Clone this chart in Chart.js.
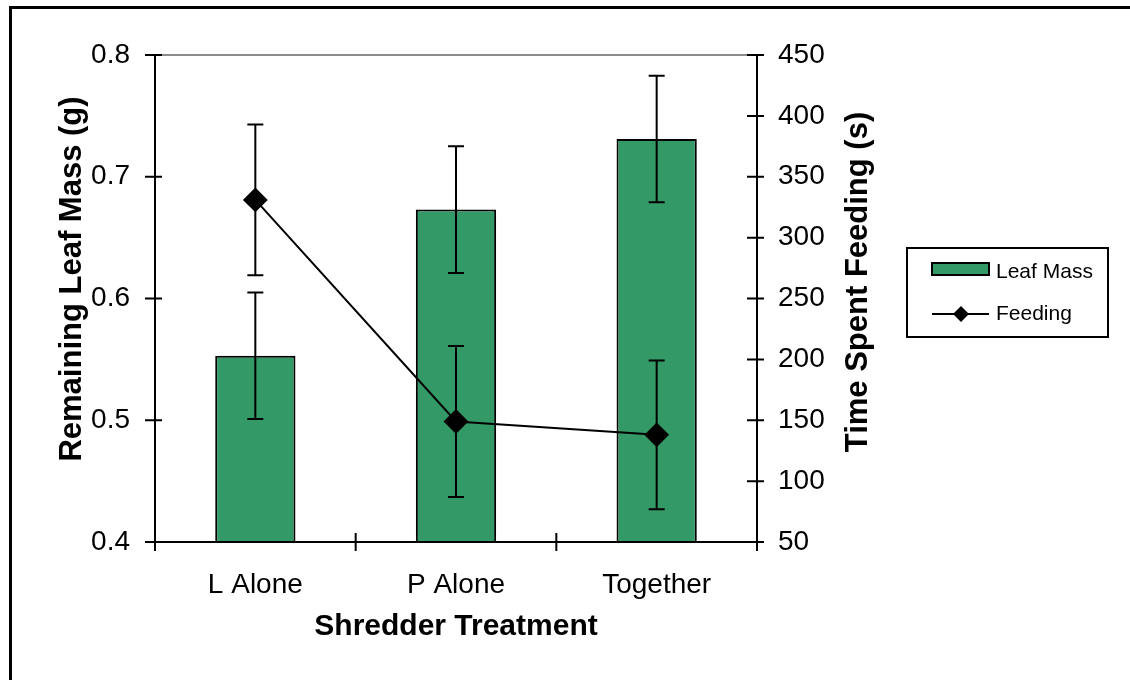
<!DOCTYPE html>
<html>
<head>
<meta charset="utf-8">
<script src="https://cdn.jsdelivr.net/npm/chart.js@4"></script>
<style>
  body { margin: 0; background: #fff; }
  canvas { display: block; }
</style>
</head>
<body>
<canvas id="leafChart" width="1130" height="680"></canvas>
<script>
const categories = ["L Alone", "P Alone", "Together"];
const leafMass = [0.553, 0.673, 0.731];
const leafMassErr = [0.052, 0.052, 0.052];
const feeding = [331, 149, 138];
const feedingErr = [62, 62, 61];
const leftTicks = [0.4, 0.5, 0.6, 0.7, 0.8];
const rightTicks = [50, 100, 150, 200, 250, 300, 350, 400, 450];

const FONT = "'Liberation Sans', Arial, sans-serif";
const GREEN = "#339966";

Chart.defaults.font.family = FONT;
Chart.defaults.color = "#000";

// error bars, axis lines, tick marks, titles and the boxed legend
const extras = {
  id: "extras",
  beforeDatasetsDraw(chart) {
    const { ctx, chartArea } = chart;
    ctx.save();
    ctx.strokeStyle = "#8c8c8c";
    ctx.lineWidth = 2;
    ctx.beginPath();
    ctx.moveTo(chartArea.left, chartArea.top);
    ctx.lineTo(chartArea.right, chartArea.top);
    ctx.stroke();
    ctx.restore();
  },
  beforeDatasetDraw(chart, args) {
    if (args.index === 1) drawErrors(chart, 1, feeding, feedingErr, "y1");
  },
  afterDatasetDraw(chart, args) {
    if (args.index === 0) drawErrors(chart, 0, leafMass, leafMassErr, "y");
  },
  afterDraw(chart) {
    const { ctx, chartArea, scales } = chart;
    const { left, right, top, bottom } = chartArea;
    ctx.save();
    ctx.strokeStyle = "#000";
    ctx.lineWidth = 2;

    // axis lines
    ctx.beginPath();
    ctx.moveTo(left, top); ctx.lineTo(left, bottom);
    ctx.moveTo(right, top); ctx.lineTo(right, bottom);
    ctx.moveTo(left - 1, bottom); ctx.lineTo(right + 1, bottom);
    ctx.stroke();

    // tick marks crossing the axes
    ctx.beginPath();
    leftTicks.forEach(v => {
      const y = scales.y.getPixelForValue(v);
      ctx.moveTo(left - 10, y); ctx.lineTo(left + 7, y);
    });
    rightTicks.forEach(v => {
      const y = scales.y1.getPixelForValue(v);
      ctx.moveTo(right - 10, y); ctx.lineTo(right + 7, y);
    });
    const half = (scales.x.getPixelForValue(1) - scales.x.getPixelForValue(0)) / 2;
    for (let i = 0; i <= categories.length; i++) {
      const x = scales.x.getPixelForValue(0) - half + i * 2 * half;
      ctx.moveTo(x, bottom - 9); ctx.lineTo(x, bottom + 9);
    }
    ctx.stroke();

    // axis titles
    ctx.fillStyle = "#000";
    ctx.textAlign = "center";
    ctx.textBaseline = "middle";
    ctx.font = "bold 30px " + FONT;
    ctx.fillText("Shredder Treatment", (left + right) / 2, 627);

    ctx.font = "bold 31px " + FONT;
    ctx.save();
    ctx.translate(72, 279);
    ctx.rotate(-Math.PI / 2);
    ctx.fillText("Remaining Leaf Mass (g)", 0, 0);
    ctx.restore();
    ctx.save();
    ctx.translate(858, 282);
    ctx.rotate(-Math.PI / 2);
    ctx.fillText("Time Spent Feeding (s)", 0, 0);
    ctx.restore();

    // legend
    ctx.lineWidth = 2;
    ctx.strokeRect(907, 248, 201, 89);
    ctx.fillStyle = GREEN;
    ctx.fillRect(932, 263, 57, 12);
    ctx.strokeRect(932, 263, 57, 12);
    ctx.beginPath();
    ctx.moveTo(932, 314); ctx.lineTo(989, 314);
    ctx.stroke();
    ctx.fillStyle = "#000";
    ctx.beginPath();
    ctx.moveTo(961, 306); ctx.lineTo(969, 314); ctx.lineTo(961, 322); ctx.lineTo(953, 314);
    ctx.closePath();
    ctx.fill();
    ctx.font = "21px " + FONT;
    ctx.textAlign = "left";
    ctx.fillText("Leaf Mass", 996, 272);
    ctx.fillText("Feeding", 996, 314);

    // outer frame (left and top edges visible)
    ctx.lineWidth = 3;
    ctx.beginPath();
    ctx.moveTo(10.5, 682); ctx.lineTo(10.5, 7.5); ctx.lineTo(1132, 7.5);
    ctx.stroke();
    ctx.restore();
  }
};

function drawErrors(chart, dsIndex, values, errs, axis) {
  const { ctx, scales } = chart;
  const meta = chart.getDatasetMeta(dsIndex);
  ctx.save();
  ctx.strokeStyle = "#000";
  ctx.lineWidth = 2;
  ctx.beginPath();
  values.forEach((v, i) => {
    const x = meta.data[i].x;
    const yHi = scales[axis].getPixelForValue(v + errs[i]);
    const yLo = scales[axis].getPixelForValue(v - errs[i]);
    ctx.moveTo(x, yHi); ctx.lineTo(x, yLo);
    ctx.moveTo(x - 8, yHi); ctx.lineTo(x + 8, yHi);
    ctx.moveTo(x - 8, yLo); ctx.lineTo(x + 8, yLo);
  });
  ctx.stroke();
  ctx.restore();
}

new Chart(document.getElementById("leafChart"), {
  type: "bar",
  data: {
    labels: categories,
    datasets: [
      {
        type: "bar",
        label: "Leaf Mass",
        data: leafMass,
        yAxisID: "y",
        backgroundColor: GREEN,
        borderColor: "#000",
        borderWidth: 2,
        borderSkipped: "bottom",
        barPercentage: 0.4,
        categoryPercentage: 1.0,
        order: 2
      },
      {
        type: "line",
        label: "Feeding",
        data: feeding,
        yAxisID: "y1",
        borderColor: "#000",
        borderWidth: 2,
        tension: 0,
        pointStyle: "rectRot",
        pointRadius: 11,
        pointBackgroundColor: "#000",
        pointBorderColor: "#000",
        pointBorderWidth: 2,
        order: 1
      }
    ]
  },
  plugins: [extras],
  options: {
    responsive: false,
    animation: false,
    layout: { padding: { top: 55, left: 0, right: 0, bottom: 0 } },
    plugins: {
      legend: { display: false },
      tooltip: { enabled: false }
    },
    scales: {
      x: {
        grid: { display: false },
        border: { display: false },
        ticks: { font: { size: 28 }, padding: 18, color: "#000" },
        afterFit: s => { s.height = 138; }
      },
      y: {
        position: "left",
        min: 0.4,
        max: 0.8,
        grid: { display: false },
        border: { display: false },
        ticks: {
          stepSize: 0.1,
          font: { size: 28 },
          padding: 17,
          color: "#000",
          callback: v => v.toFixed(1)
        },
        afterFit: s => { s.width = 155; }
      },
      y1: {
        position: "right",
        min: 50,
        max: 450,
        grid: { display: false },
        border: { display: false },
        ticks: { stepSize: 50, font: { size: 28 }, padding: 13, color: "#000" },
        afterFit: s => { s.width = 373; }
      }
    }
  }
});
</script>
</body>
</html>
